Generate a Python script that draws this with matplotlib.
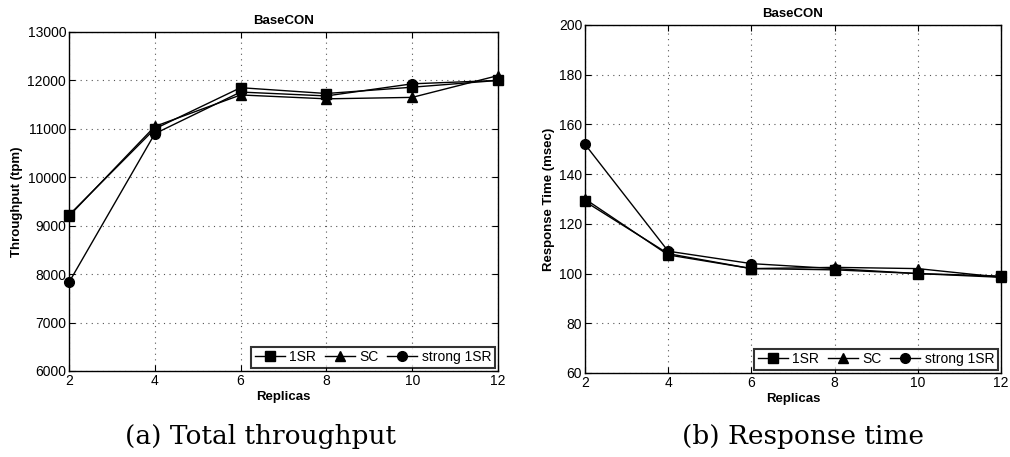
import matplotlib.pyplot as plt

replicas = [2, 4, 6, 8, 10, 12]

# throughput (tpm)
thr_1sr = [9220, 11000, 11850, 11730, 11860, 12000]
thr_sc = [9200, 11050, 11700, 11620, 11650, 12100]
thr_strong = [7830, 10900, 11760, 11680, 11930, 12000]

# response time (msec)
rt_1sr = [129, 108, 102, 101.5, 100, 99]
rt_sc = [130, 107.5, 102, 102.5, 102, 98.5]
rt_strong = [152, 109, 104, 102, 100, 98.5]

labels = ["1SR", "SC", "strong 1SR"]
markers = ["s", "^", "o"]

plt.rcParams['font.family'] = ['Liberation Sans', 'DejaVu Sans']

fig = plt.figure(figsize=(10.1, 4.57), dpi=100)
ax1 = fig.add_axes([69 / 1010, 1 - 371 / 457, 429 / 1010, 339 / 457])
ax2 = fig.add_axes([585 / 1010, 1 - 373 / 457, 416 / 1010, 348 / 457])


def dibujar(ax, series, ylim, yticks, ylabel):
    for vals, lab, m in zip(series, labels, markers):
        ax.plot(replicas, vals, color="black", linewidth=1, marker=m,
                markersize=7, label=lab, clip_on=False, zorder=3)
    ax.set_xlim(2, 12)
    ax.set_ylim(*ylim)
    ax.set_xticks(replicas)
    ax.set_yticks(yticks)
    ax.grid(True, linestyle=(0, (1, 4)), color="#555555", linewidth=0.8)
    ax.tick_params(direction="in", labelsize=10, length=4, top=True,
                   right=True, pad=2)
    ax.set_title("BaseCON", fontsize=9.5, fontweight="bold", pad=6)
    ax.set_xlabel("Replicas", fontsize=9.5, fontweight="bold", labelpad=2)
    ax.set_ylabel(ylabel, fontsize=9.5, fontweight="bold", labelpad=3)
    for s in ax.spines.values():
        s.set_linewidth(1)
    leg = ax.legend(loc="lower right", ncol=3, fontsize=10, frameon=True,
                    fancybox=False, handlelength=2.2, handletextpad=0.3,
                    columnspacing=0.6, borderpad=0.25, borderaxespad=0.25)
    leg.get_frame().set_edgecolor("black")
    leg.get_frame().set_linewidth(1.5)
    leg.set_zorder(5)


dibujar(ax1, [thr_1sr, thr_sc, thr_strong], (6000, 13000),
        range(6000, 13001, 1000), "Throughput (tpm)")
dibujar(ax2, [rt_1sr, rt_sc, rt_strong], (60, 200),
        range(60, 201, 20), "Response Time (msec)")

fig.text(0.258, 1 - 444 / 457, "(a) Total throughput", ha="center",
         va="baseline", fontsize=19, family="DejaVu Serif")
fig.text(0.795, 1 - 444 / 457, "(b) Response time", ha="center",
         va="baseline", fontsize=19, family="DejaVu Serif")

fig.savefig("out.png", dpi=100)
